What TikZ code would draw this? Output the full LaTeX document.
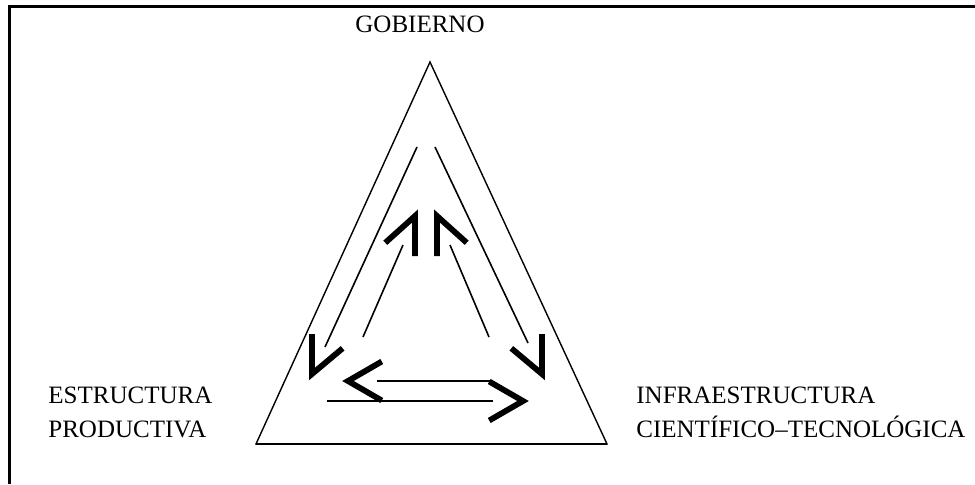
\documentclass[tikz,border=0pt]{standalone}
\usepackage{fontspec}
\setmainfont{Liberation Serif}
\usetikzlibrary{positioning}

\begin{document}
\begin{tikzpicture}[x=0.5pt, y=0.5pt,
    % estilos
    rotulo/.style={font=\fontsize{12.5}{17}\selectfont, inner sep=0pt, align=left},
    lado/.style={line width=0.7pt},
    flecha/.style={line width=0.8pt},
    punta/.style={line width=2.9pt},
    marco/.style={line width=1.5pt},
    ]
    \useasboundingbox (0,0) rectangle (975,484);
    %Marco
    \draw[marco] (9,0) -- (9,478) -- (975,478);

    %Nodes
    \node[rotulo, anchor=base] (gob) at (420,452) {GOBIERNO};
    \node[rotulo, anchor=north west] (prod) at (48,97) {ESTRUCTURA\\PRODUCTIVA};
    \node[rotulo, anchor=north west] (infra) at (636,97) {INFRAESTRUCTURA\\CIENTÍFICO–TECNOLÓGICA};

    %Triangulo
    \coordinate (apex) at (430,422);
    \coordinate (bl) at (256,40);
    \coordinate (br) at (607,40);
    \draw[lado] (apex) -- (br) -- (bl) -- cycle;
    \draw[line width=1.1pt] (bl) -- (br);

    %Flechas
    \coordinate (a1s) at (417,337); \coordinate (a1e) at (325,137); \coordinate (a1t) at (312,110);
    \coordinate (a2s) at (363,147); \coordinate (a2e) at (403,239); \coordinate (a2t) at (415,268);
    \coordinate (a3s) at (489,147); \coordinate (a3e) at (450,239); \coordinate (a3t) at (437,268);
    \coordinate (a4s) at (435,337); \coordinate (a4e) at (528,141); \coordinate (a4t) at (542,110);
    \coordinate (a5s) at (490,103); \coordinate (a5e) at (377,103); \coordinate (a5t) at (348,103);
    \coordinate (a6s) at (327,83);  \coordinate (a6e) at (493,83);  \coordinate (a6t) at (523,83);

    \draw[flecha] (a1s) -- (a1e);
    \draw[flecha] (a2s) -- (a2e);
    \draw[flecha] (a3s) -- (a3e);
    \draw[flecha] (a4s) -- (a4e);
    \draw[flecha] (a5s) -- (a5e);
    \draw[flecha] (a6s) -- (a6e);

    \draw[punta] (a1t) ++(90:40) -- (a1t) -- ++(40:40);
    \draw[punta] (a2t) ++(270:40) -- (a2t) -- ++(222:40);
    \draw[punta] (a3t) ++(270:40) -- (a3t) -- ++(318:40);
    \draw[punta] (a4t) ++(90:40) -- (a4t) -- ++(140:40);
    \draw[punta] (a5t) ++(30:39) -- (a5t) -- ++(-30:39);
    \draw[punta] (a6t) ++(150:39) -- (a6t) -- ++(210:39);

\end{tikzpicture}
\end{document}
